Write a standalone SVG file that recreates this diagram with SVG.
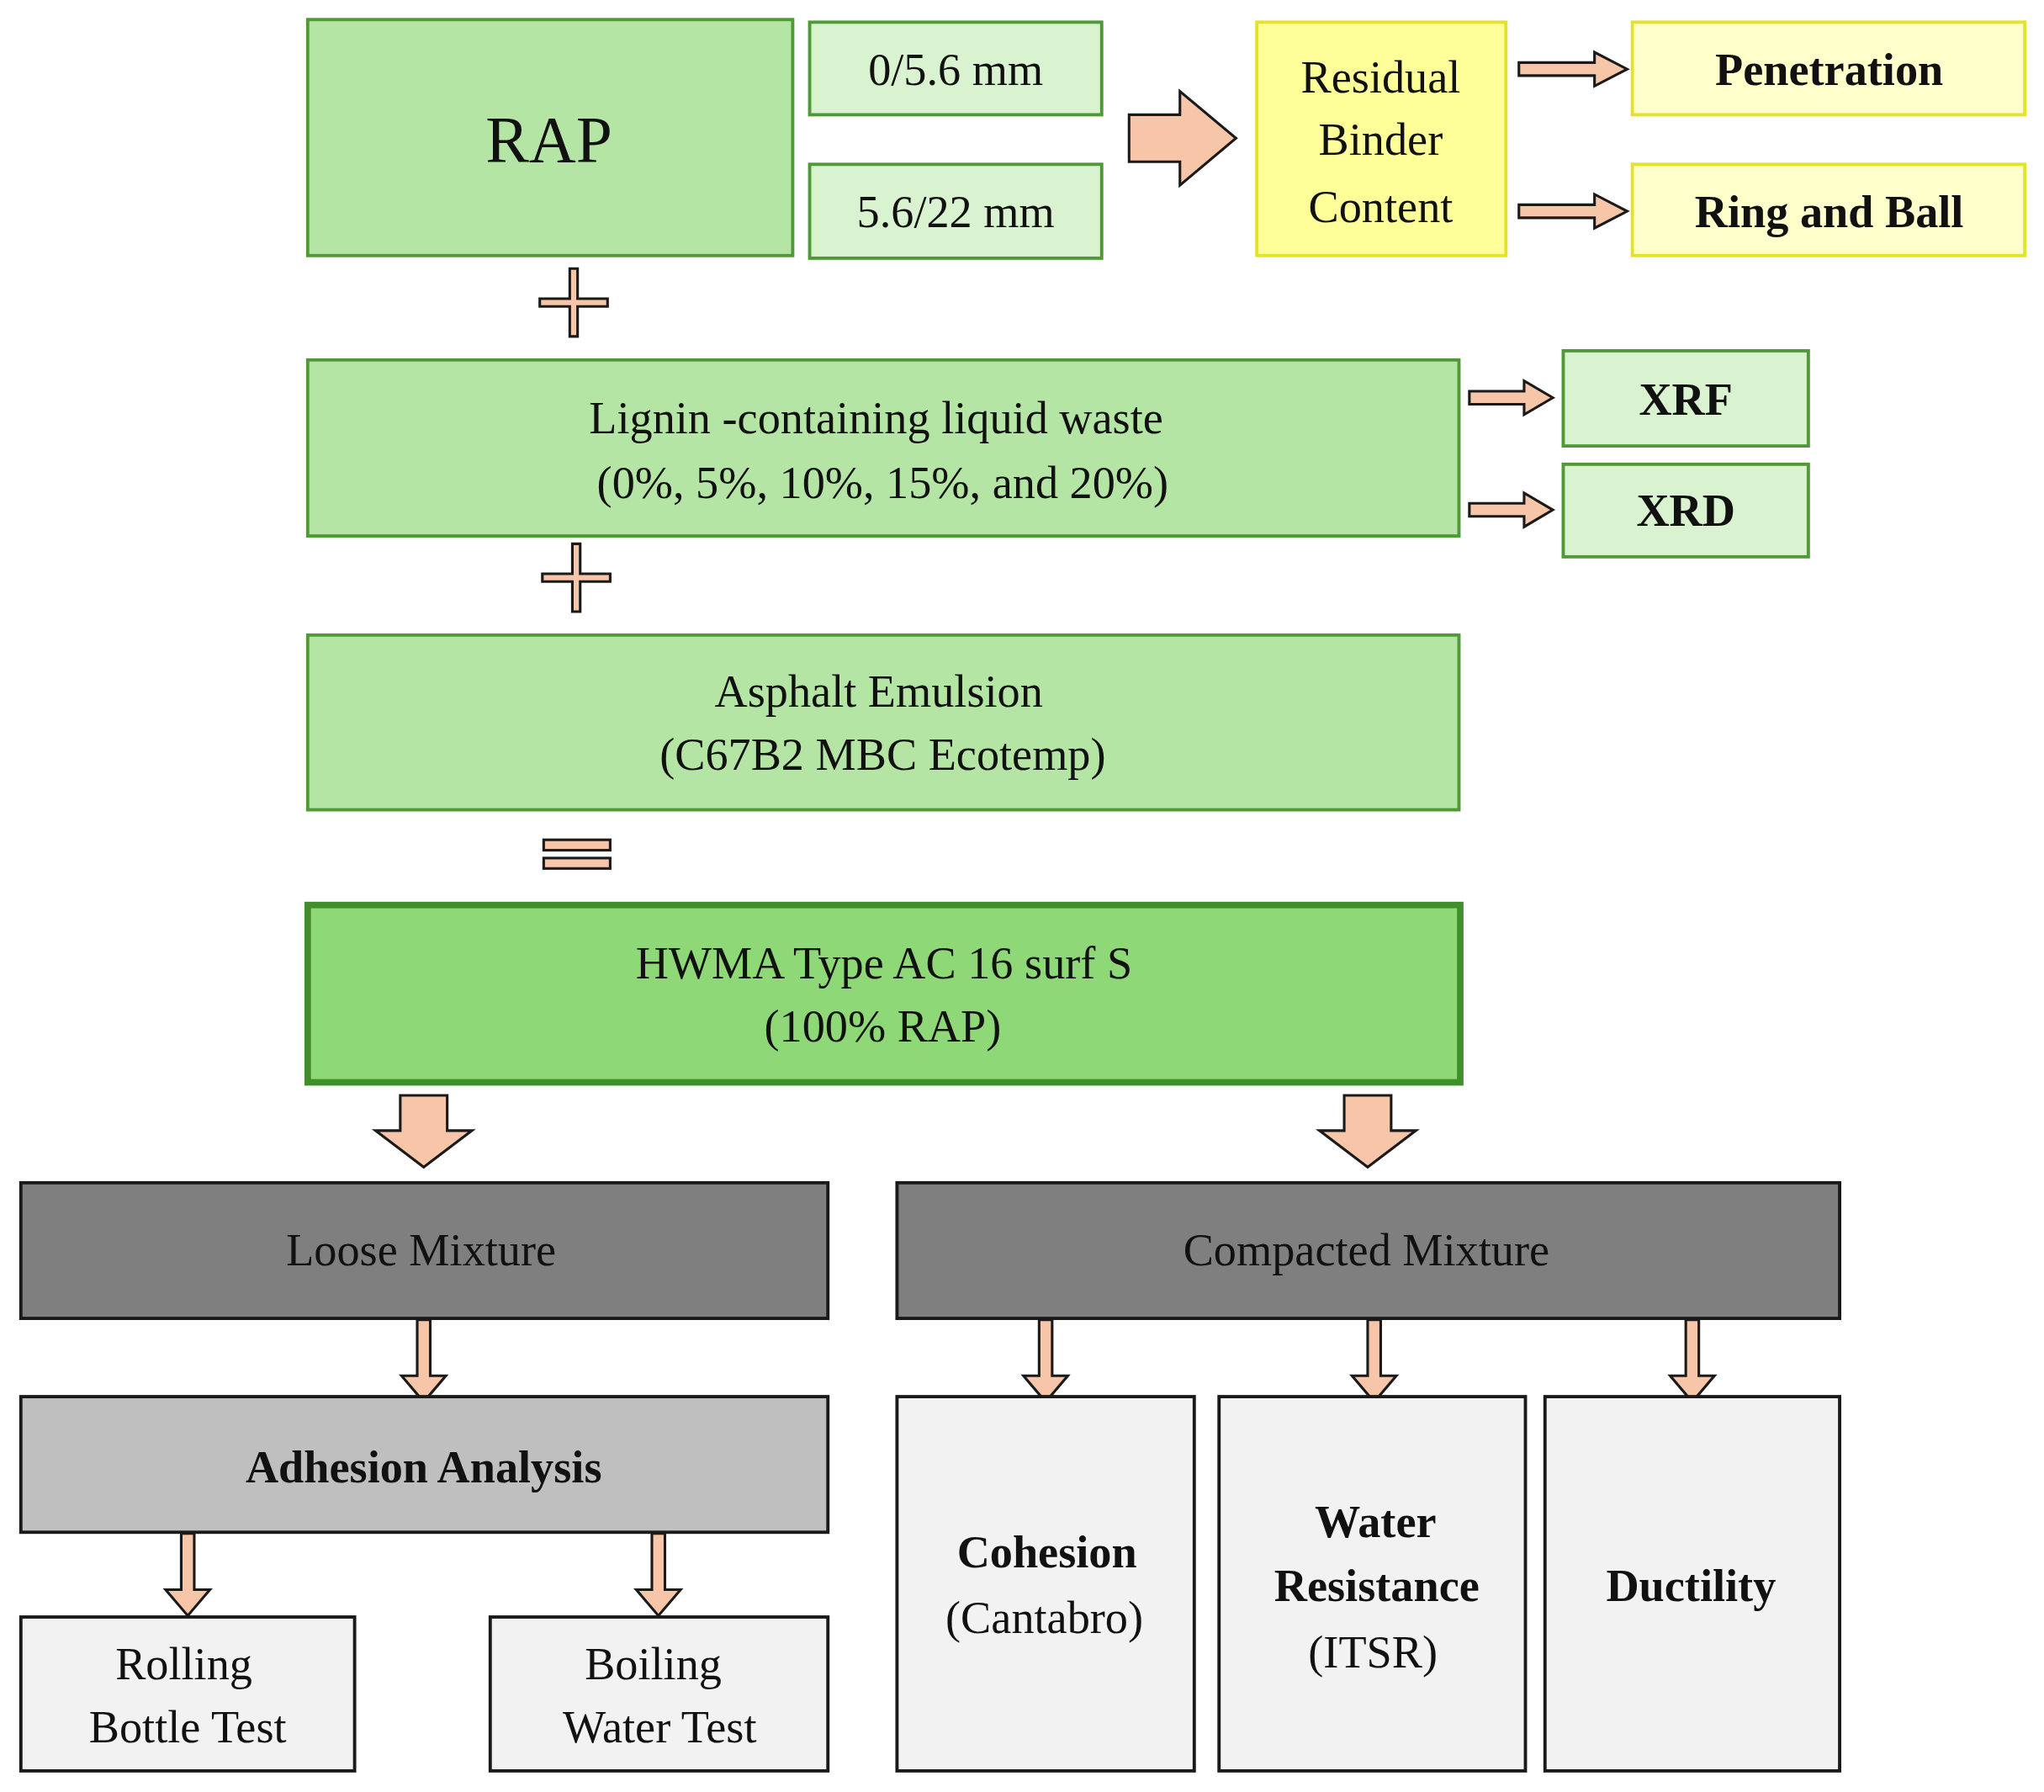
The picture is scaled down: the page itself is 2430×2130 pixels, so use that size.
<svg xmlns="http://www.w3.org/2000/svg" width="2430" height="2130" viewBox="0 0 2430 2130">
<style>
text{font-family:"Liberation Serif","Times New Roman",serif;font-size:35px;text-anchor:middle;fill:#111}
.b{font-weight:bold}
.g{fill:#b5e5a4;stroke:#4f9a36;stroke-width:2.5}
.gl{fill:#d9f2cf;stroke:#4f9a36;stroke-width:2.5}
.y{fill:#ffff99;stroke:#e3e32a;stroke-width:2.5}
.yl{fill:#ffffcc;stroke:#e3e32a;stroke-width:2.5}
.d{fill:#7f7f7f;stroke:#1a1a1a;stroke-width:2.5}
.m{fill:#bfbfbf;stroke:#1a1a1a;stroke-width:2.5}
.l{fill:#f2f2f2;stroke:#1a1a1a;stroke-width:2.5}
.a{fill:#f7c6a9;stroke:#1a1a1a;stroke-width:2}
</style>
<defs>
<path id="ra" d="M0,-5 H58 V-13 L83,0 L58,13 V5 H0 Z" class="a"/>
<path id="xa" d="M0,-5 H42 V-13 L64,0 L42,13 V5 H0 Z" class="a"/>
<path id="da" d="M-5,0 V43 H-17 L0,63 L17,43 H5 V0 Z" class="a"/>
<path id="pl" d="M-3,-26 H3 V-3 H26 V3 H3 V26 H-3 V3 H-26 V-3 H-3 Z" class="a"/>
</defs>
<rect width="2430" height="2130" fill="#fff"/>
<g transform="scale(1.55)">
<g id="connectors">
<path class="a" d="M866,88 H905 V70 L948,106 L905,142 V124 H866 Z"/>
<use href="#ra" x="1165" y="53"/>
<use href="#ra" x="1165" y="162"/>
<use href="#xa" x="1127" y="305"/>
<use href="#xa" x="1127" y="391"/>
<use href="#pl" x="440" y="232"/>
<use href="#pl" x="442" y="443"/>
<rect class="a" x="417" y="644" width="51" height="8"/>
<rect class="a" x="417" y="658" width="51" height="8"/>
<path class="a" d="M307,840 H343 V867 H362 L325,895 L288,867 H307 Z"/>
<path class="a" d="M1031,840 H1067 V867 H1086 L1049,895 L1012,867 H1031 Z"/>
<use href="#da" x="325" y="1012"/>
<use href="#da" x="144" y="1176"/>
<use href="#da" x="505" y="1176"/>
<use href="#da" x="802" y="1012"/>
<use href="#da" x="1054" y="1012"/>
<use href="#da" x="1298" y="1012"/>
</g>
<g id="rap"><rect class="g" x="236" y="15" width="372" height="181"/><text x="421" y="124" style="font-size:50px">RAP</text></g>
<g id="f1"><rect class="gl" x="621" y="17" width="224" height="71"/><text x="733" y="65">0/5.6 mm</text></g>
<g id="f2"><rect class="gl" x="621" y="126" width="224" height="72"/><text x="733" y="174">5.6/22 mm</text></g>
<g id="rbc"><rect class="y" x="964" y="17" width="191" height="179"/><text x="1059" y="71">Residual</text><text x="1059" y="119">Binder</text><text x="1059" y="170">Content</text></g>
<g id="pen"><rect class="yl" x="1252" y="17" width="301" height="71"/><text class="b" x="1403" y="65">Penetration</text></g>
<g id="rb"><rect class="yl" x="1252" y="126" width="301" height="70"/><text class="b" x="1403" y="174">Ring and Ball</text></g>
<g id="lig"><rect class="g" x="236" y="276" width="883" height="135"/><text x="672" y="332">Lignin -containing liquid waste</text><text x="677" y="382">(0%, 5%, 10%, 15%, and 20%)</text></g>
<g id="xrf"><rect class="gl" x="1199" y="269" width="188" height="73"/><text class="b" x="1293" y="318">XRF</text></g>
<g id="xrd"><rect class="gl" x="1199" y="356" width="188" height="71"/><text class="b" x="1293" y="403">XRD</text></g>
<g id="ae"><rect class="g" x="236" y="487" width="883" height="134"/><text x="674" y="542">Asphalt Emulsion</text><text x="677" y="590">(C67B2 MBC Ecotemp)</text></g>
<g id="hwma"><rect x="236" y="694" width="884" height="136" fill="#8fd877" stroke="#3f8f2a" stroke-width="5"/><text x="678" y="750">HWMA Type AC 16 surf S</text><text x="677" y="799">(100% RAP)</text></g>
<g id="loose"><rect class="d" x="16" y="907" width="619" height="104"/><text x="323" y="970">Loose Mixture</text></g>
<g id="comp"><rect class="d" x="688" y="907" width="723" height="104"/><text x="1048" y="970">Compacted Mixture</text></g>
<g id="adh"><rect class="m" x="16" y="1071" width="619" height="104"/><text class="b" x="325" y="1137">Adhesion Analysis</text></g>
<g id="rbt"><rect class="l" x="16" y="1240" width="256" height="118"/><text x="141" y="1288">Rolling</text><text x="144" y="1336">Bottle Test</text></g>
<g id="bwt"><rect class="l" x="376" y="1240" width="259" height="118"/><text x="501" y="1288">Boiling</text><text x="506" y="1336">Water Test</text></g>
<g id="coh"><rect class="l" x="688" y="1071" width="228" height="287"/><text class="b" x="803" y="1202">Cohesion</text><text x="801" y="1252">(Cantabro)</text></g>
<g id="wr"><rect class="l" x="935" y="1071" width="235" height="287"/><text class="b" x="1055" y="1179">Water</text><text class="b" x="1056" y="1228">Resistance</text><text x="1053" y="1279">(ITSR)</text></g>
<g id="duc"><rect class="l" x="1185" y="1071" width="226" height="287"/><text class="b" x="1297" y="1228">Ductility</text></g>
</g>
</svg>
